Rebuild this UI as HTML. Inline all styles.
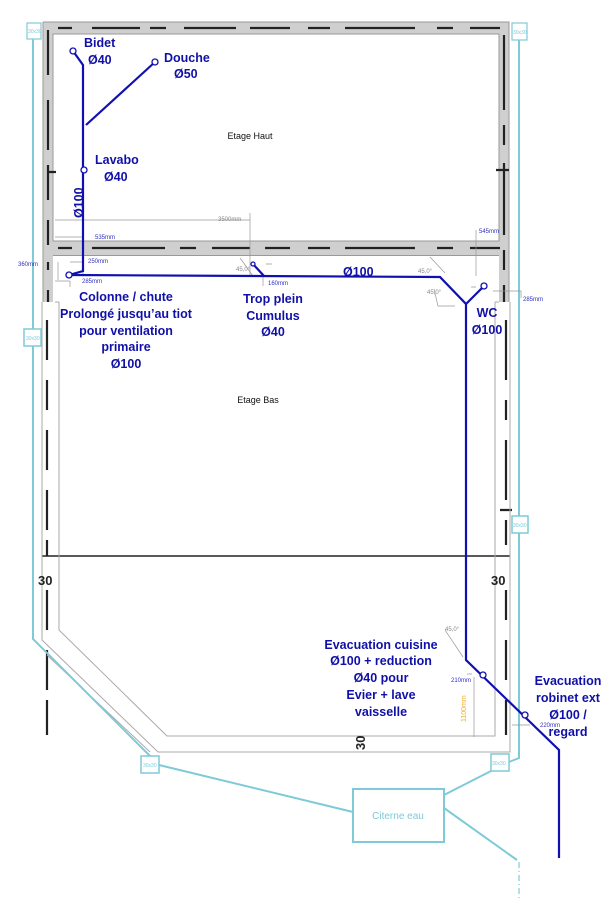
<!DOCTYPE html>
<html><head><meta charset="utf-8">
<style>
html,body{margin:0;padding:0;background:#fff;}
svg{display:block;}
.b{font-family:"Liberation Sans",sans-serif;font-weight:bold;font-size:12.5px;fill:#1010a8;}
.d{font-family:"Liberation Sans",sans-serif;font-size:6px;fill:#3030c0;}
.g{font-family:"Liberation Sans",sans-serif;font-size:6px;fill:#888;}
.c{font-family:"Liberation Sans",sans-serif;fill:#7ecad8;}
</style></head><body>
<svg width="610" height="901" viewBox="0 0 610 901" xmlns="http://www.w3.org/2000/svg">
<path d="M43,22 H509 V302 H499 V255 H53 V302 H43 Z M53,34 V241 H499 V34 Z" fill="#cfcfcf" fill-rule="evenodd"/>
<path d="M43,22 H509 V302 M43,22 V302" fill="none" stroke="#999" stroke-width="1"/>
<rect x="53" y="34" width="446" height="207" fill="none" stroke="#999" stroke-width="1"/>
<rect x="53" y="255" width="446" height="1" fill="#999"/>
<g stroke="#222" stroke-width="2.2" fill="none">
<path d="M58,28 H72 M92,28 H140 M150,28 H166 M184,28 H236 M250,28 H290 M308,28 H330 M345,28 H415 M437,28 H453 M470,28 H500" />
<path d="M58,248 H72 M92,248 H165 M180,248 H196 M212,248 H250 M265,248 H290 M308,248 H330 M345,248 H415 M437,248 H453 M470,248 H500" />
<path d="M48,30 V75 M48,100 V150 M48,165 V200 M48,220 V245 M48,262 V270 M48,290 V302" />
<path d="M504,35 V110 M504,125 V145 M504,163 V235 M504,250 V270 M504,285 V302" />
<path d="M47,320 V360 M47,380 V410 M47,430 V470 M47,490 V520 M47,540 V556 M47,590 V630 M47,650 V690 M47,700 V735" />
<path d="M506,320 V380 M506,400 V420 M506,440 V500 M506,520 V545 M506,590 V620 M506,640 V680 M506,700 V735" />
<path d="M42,556 H510" stroke-width="1.6"/>
<path d="M496,170 H509 M47,172 H56 M500,510 H512 M47,520 V530"/>
</g>
<g stroke="#aaa" stroke-width="1" fill="none">
<path d="M42,302 V640 L158,752 H510 V302"/>
<path d="M59,302 V630 L167,736 H495 V302"/>
<path d="M47,655 L150,752"/>
<path d="M55,302 H59 M495,302 H499"/>
</g>
<text x="38" y="585" font-family="Liberation Sans,sans-serif" font-weight="bold" font-size="13" fill="#222">30</text>
<text x="491" y="585" font-family="Liberation Sans,sans-serif" font-weight="bold" font-size="13" fill="#222">30</text>
<text transform="translate(365,750) rotate(-90)" font-family="Liberation Sans,sans-serif" font-weight="bold" font-size="13" fill="#222">30</text>
<g stroke="#7ecad8" stroke-width="2" fill="none">
<path d="M33,39 V329 M33,346 V639 L150,756"/>
<path d="M519,40 V516 M519,533 V758 L509,762"/>
<path d="M159,765 L353,812"/>
<path d="M444,795 L491,771"/>
<path d="M444,808 L517,860"/>
<path d="M519,862 V901" stroke-width="1.2" stroke-dasharray="6,3,1,3"/>
<rect x="27" y="23" width="14" height="16" stroke-width="1.2"/>
<rect x="512" y="23" width="15" height="17" stroke-width="1.2"/>
<rect x="24" y="329" width="17" height="17" stroke-width="1.5"/>
<rect x="512" y="516" width="16" height="17" stroke-width="1.5"/>
<rect x="141" y="756" width="18" height="17" stroke-width="1.5"/>
<rect x="491" y="754" width="18" height="17" stroke-width="1.5"/>
<rect x="353" y="789" width="91" height="53" stroke-width="2"/>
</g>
<g class="c" style="font-size:5px">
<text x="28" y="33">30x30</text>
<text x="513" y="34">30x30</text>
<text x="26" y="340">30x30</text>
<text x="513" y="527">30x30</text>
<text x="143" y="767">30x30</text>
<text x="492" y="765">30x30</text>
</g>
<text x="398" y="819" class="c" style="font-size:10px" text-anchor="middle">Citerne eau</text>
<g stroke="#999" stroke-width="0.7" fill="none">
<path d="M55,220 H250 M250,213 V275 M55,237 H82 M83,232 V275 M58,262 V280 M70,262 H83 M55,281 H70 M70,281 V287"/>
<path d="M240,258 L253,276 M266,264 H272 M263,276 V286"/>
<path d="M476,230 V276 M471,287 H476 M493,291 H521 V298"/>
<path d="M430,257 L445,273 M434,289 L438,306 H455"/>
<path d="M445,630 L463,657 M467,674 H472 M474,677 V737 M512,725 H530"/>
</g>
<text x="218" y="221" class="g">3500mm</text>
<text x="95" y="239" class="d">535mm</text>
<text x="18" y="266" class="d">360mm</text>
<text x="88" y="263" class="d">250mm</text>
<text x="82" y="283" class="d">285mm</text>
<text x="268" y="285" class="d">160mm</text>
<text x="236" y="271" class="g">45,0°</text>
<text x="418" y="273" class="g">45,0°</text>
<text x="427" y="294" class="g">45,0°</text>
<text x="479" y="233" class="d">545mm</text>
<text x="523" y="301" class="d">285mm</text>
<text x="445" y="631" class="g">45,0°</text>
<text x="451" y="682" class="d">210mm</text>
<text x="540" y="727" class="d">220mm</text>
<text transform="translate(466,722) rotate(-90)" font-family="Liberation Sans,sans-serif" font-size="7" fill="#f0b020">1100mm</text>
<text x="250" y="139" font-family="Liberation Sans,sans-serif" font-size="9" fill="#111" text-anchor="middle">Etage Haut</text>
<text x="258" y="403" font-family="Liberation Sans,sans-serif" font-size="9" fill="#111" text-anchor="middle">Etage Bas</text>
<g stroke="#1010b0" stroke-width="2.2" fill="none">
<path d="M73,51 L83,65 V271 L69,275 L440,277 L466,304 V660 L559,750 V858"/>
<path d="M86,125 L155,62"/>
<path d="M253,264 L264,276"/>
<path d="M466,304 L484,286"/>
</g>
<g stroke="#1010b0" stroke-width="1.3" fill="#fff">
<circle cx="73" cy="51" r="3"/><circle cx="155" cy="62" r="3"/><circle cx="84" cy="170" r="3"/>
<circle cx="69" cy="275" r="3"/><circle cx="253" cy="264" r="2"/><circle cx="484" cy="286" r="3"/>
<circle cx="483" cy="675" r="3"/><circle cx="525" cy="715" r="3"/>
</g>
<text x="84" y="47" class="b">Bidet</text>
<text x="88" y="64" class="b">Ø40</text>
<text x="164" y="62" class="b">Douche</text>
<text x="174" y="78" class="b">Ø50</text>
<text x="95" y="164" class="b">Lavabo</text>
<text x="104" y="181" class="b">Ø40</text>
<text transform="translate(83,218) rotate(-90)" class="b">Ø100</text>
<text x="343" y="276" class="b">Ø100</text>
<g class="b" text-anchor="middle">
<text x="126" y="301">Colonne / chute</text>
<text x="126" y="318">Prolongé jusqu’au tiot</text>
<text x="126" y="335">pour ventilation</text>
<text x="126" y="351">primaire</text>
<text x="126" y="368">Ø100</text>
<text x="273" y="303">Trop plein</text>
<text x="273" y="320">Cumulus</text>
<text x="273" y="336">Ø40</text>
<text x="487" y="317">WC</text>
<text x="487" y="334">Ø100</text>
<text x="381" y="649">Evacuation cuisine</text>
<text x="381" y="665">Ø100 + reduction</text>
<text x="381" y="682">Ø40 pour</text>
<text x="381" y="699">Evier + lave</text>
<text x="381" y="716">vaisselle</text>
<text x="568" y="685">Evacuation</text>
<text x="568" y="702">robinet ext</text>
<text x="568" y="719">Ø100 /</text>
<text x="568" y="736">regard</text>
</g>
</svg>
</body></html>
